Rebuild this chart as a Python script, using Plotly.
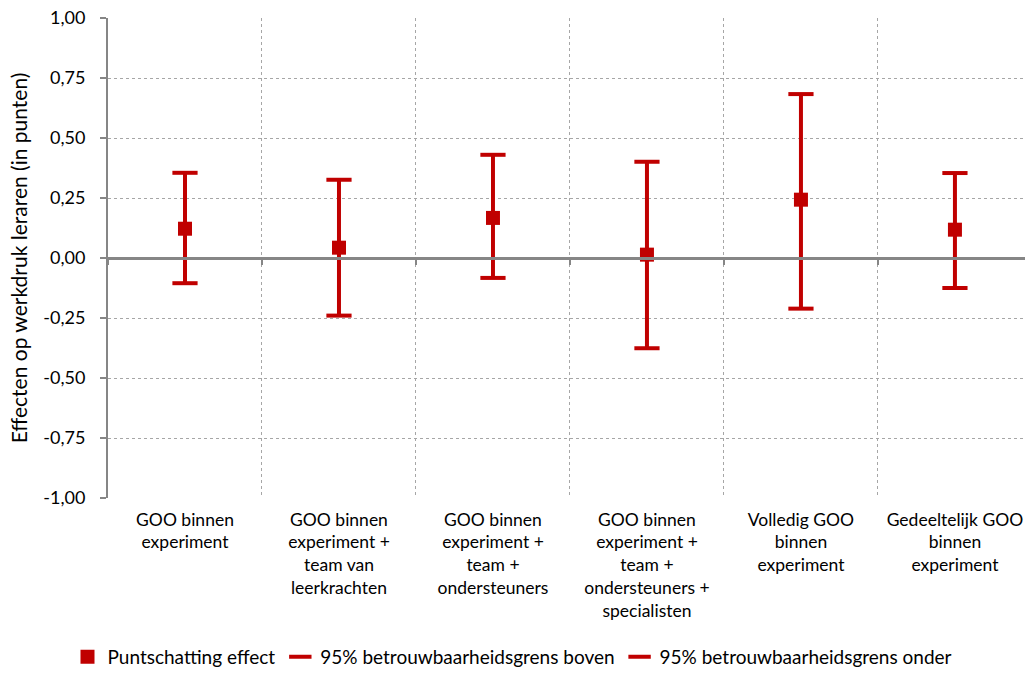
import plotly.graph_objects as go

categories = [
    "GOO binnen<br>experiment",
    "GOO binnen<br>experiment +<br>team van<br>leerkrachten",
    "GOO binnen<br>experiment +<br>team +<br>ondersteuners",
    "GOO binnen<br>experiment +<br>team +<br>ondersteuners +<br>specialisten",
    "Volledig GOO<br>binnen<br>experiment",
    "Gedeeltelijk GOO<br>binnen<br>experiment",
]
point_estimate = [0.122, 0.043, 0.167, 0.014, 0.243, 0.118]
upper_bound = [0.355, 0.326, 0.430, 0.401, 0.683, 0.354]
lower_bound = [-0.105, -0.240, -0.083, -0.376, -0.211, -0.125]
y_tickvals = [-1.0, -0.75, -0.5, -0.25, 0.0, 0.25, 0.5, 0.75, 1.0]
y_ticktext = ["-1,00", "-0,75", "-0,50", "-0,25", "0,00", "0,25", "0,50", "0,75", "1,00"]

RED = "#C00000"
AXIS = "#868686"
GRID = "#A6A6A6"
FONT = "Lato, Carlito, Calibri, sans-serif"
FS = 18

# whisker segments built from the bound arrays
wx, wy = [], []
for c, lo, hi in zip(categories, lower_bound, upper_bound):
    wx += [c, c, None]
    wy += [lo, hi, None]

fig = go.Figure()
fig.add_trace(go.Scatter(x=wx, y=wy, mode="lines", line=dict(color=RED, width=4),
                         showlegend=False, hoverinfo="skip"))
fig.add_trace(go.Scatter(x=categories, y=point_estimate, mode="markers", name="Puntschatting effect",
                         marker=dict(symbol="square", size=14, color=RED)))
fig.add_trace(go.Scatter(x=categories, y=upper_bound, mode="markers",
                         name="95% betrouwbaarheidsgrens boven",
                         marker=dict(symbol="line-ew", size=18, color=RED,
                                     line=dict(color=RED, width=4))))
fig.add_trace(go.Scatter(x=categories, y=lower_bound, mode="markers",
                         name="95% betrouwbaarheidsgrens onder",
                         marker=dict(symbol="line-ew", size=18, color=RED,
                                     line=dict(color=RED, width=4))))
# invisible trace for the overlay axis carrying the zero-line ticks
fig.add_trace(go.Scatter(x=categories, y=point_estimate, xaxis="x2", mode="markers",
                         marker=dict(opacity=0), showlegend=False, hoverinfo="skip"))

W, H = 1025, 673
xr = [-0.5, 5.455]
fig.update_layout(
    width=W, height=H,
    margin=dict(l=108, r=0, t=18, b=175, autoexpand=False),
    paper_bgcolor="white", plot_bgcolor="white",
    font=dict(family=FONT, size=FS, color="#000000"),
    showlegend=True,
    legend=dict(orientation="h", x=0.5, xref="container", xanchor="center",
                y=16 / H, yref="container", yanchor="middle",
                font=dict(size=19), itemwidth=30, tracegroupgap=0,
                bgcolor="rgba(0,0,0,0)"),
    xaxis=dict(type="category", categoryorder="array", categoryarray=categories,
               range=xr, tickson="boundaries", showgrid=True, gridcolor=GRID,
               griddash="dot", gridwidth=1, ticks="", showline=False,
               zeroline=False, tickfont=dict(size=17.5), ticklabelstandoff=9,
               automargin=False, ticklabeloverflow="allow"),
    xaxis2=dict(type="category", categoryorder="array", categoryarray=categories,
                overlaying="x", anchor="free", position=0.5, range=xr,
                tickson="boundaries", showgrid=False, showline=True, linecolor=AXIS,
                linewidth=3, ticks="outside", ticklen=5, tickcolor=AXIS, tickwidth=2,
                showticklabels=False, zeroline=False, automargin=False),
    yaxis=dict(range=[-1, 1], tickvals=y_tickvals, ticktext=y_ticktext,
               showgrid=True, gridcolor=GRID, griddash="dot", gridwidth=1,
               showline=True, linecolor=AXIS, linewidth=2, ticks="outside",
               ticklen=6, tickcolor=AXIS, tickwidth=2, zeroline=False,
               tickfont=dict(size=FS), ticklabelstandoff=11, automargin=False,
               ticklabeloverflow="allow",
               title=dict(text="Effecten op werkdruk leraren (in punten)",
                          font=dict(size=21), standoff=10)),
)

fig.write_html(
    "out.html",
    config={"displayModeBar": False},
    post_script="document.body.style.margin='0';document.body.style.overflow='hidden';",
)
